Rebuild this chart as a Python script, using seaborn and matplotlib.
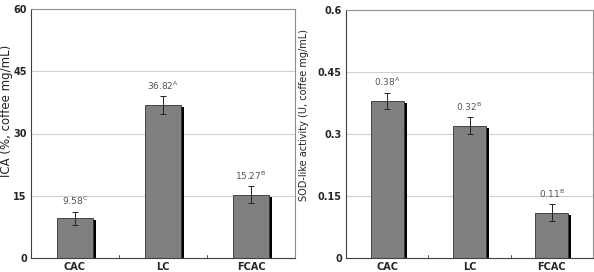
import matplotlib
matplotlib.use("Agg")
import matplotlib.pyplot as plt
import matplotlib.patheffects as pe
import seaborn as sns
import pandas as pd
import numpy as np

categories = ["CAC", "LC", "FCAC"]
ica_values = [9.58, 36.82, 15.27]
ica_err = [1.6, 2.2, 2.0]
ica_letters = ["C", "A", "B"]
sod_values = [0.38, 0.32, 0.11]
sod_err = [0.02, 0.02, 0.02]
sod_letters = ["A", "B", "B"]

sns.set_theme(style="white")
plt.rcParams['font.family'] = ['DejaVu Sans']

fig = plt.figure(figsize=(5.94, 2.72), dpi=100)
ax1 = fig.add_axes([31/594, 1 - 258/272, 264/594, 249/272])
ax2 = fig.add_axes([346/594, 1 - 258/272, 247/594, 248/272])

def panel(ax, values, errs, letters, ylabel, ticks, lblfmt, ylfs, ylx, yly):
    df = pd.DataFrame({"cat": categories, "val": values})
    sns.barplot(data=df, x="cat", y="val", ax=ax, color="#808080",
                saturation=1, width=0.4, edgecolor="#303030", linewidth=0.6,
                errorbar=None)
    for p in ax.patches:
        p.set_path_effects([pe.SimplePatchShadow(offset=(2.2, -1.5),
                                                 shadow_rgbFace="black", alpha=1.0),
                            pe.Normal()])
    xs = [p.get_x() + p.get_width() / 2 for p in ax.patches]
    ax.errorbar(xs, values, yerr=errs, fmt="none", ecolor="#222222",
                elinewidth=0.7, capsize=2, capthick=0.7, zorder=5)
    for x, v, e, l in zip(xs, values, errs, letters):
        ax.annotate(lblfmt.format(v) + r"$^{\mathregular{" + l + "}}$",
                    (x, v + e), xytext=(0, 3), textcoords="offset points",
                    ha="center", va="bottom", fontsize=6.5, color="#555555")
    ax.set_ylim(ticks[0], ticks[-1])
    ax.set_yticks(ticks)
    ax.set_yticklabels([f"{t:g}" for t in ticks], fontsize=7, fontweight="bold")
    ax.set_xticks(range(3))
    ax.set_xticklabels(categories, fontsize=7, fontweight="bold")
    ax.set_xlim(-0.5, 2.5)
    ax.tick_params(axis="x", length=0, pad=3)
    ax.tick_params(axis="y", length=0, pad=3)
    for t in ticks[1:-1]:
        ax.axhline(t, color="#d0d0d0", linewidth=0.8, zorder=0)
    for b in [0.5, 1.5]:
        ax.plot([b, b], [0, (ticks[-1]) * 0.012], color="#555555", lw=0.7,
                clip_on=False)
    ax.set_xlabel("")
    ax.set_ylabel(ylabel, fontsize=ylfs, color="#222222")
    ax.yaxis.set_label_coords(ylx, yly)
    for s in ax.spines.values():
        s.set_color("#909090")
        s.set_linewidth(0.8)
    ax.spines["bottom"].set_color("#404040")
    ax.spines["left"].set_color("#404040")

panel(ax1, ica_values, ica_err, ica_letters, "ICA (%, coffee mg/mL)",
      [0, 15, 30, 45, 60], "{:.2f}", 8.5, -0.068, 0.59)
panel(ax2, sod_values, sod_err, sod_letters, "SOD-like activity (U, coffee mg/mL)",
      [0, 0.15, 0.3, 0.45, 0.6], "{:.2f}", 7, -0.15, 0.575)

fig.savefig("out.png", dpi=100)
